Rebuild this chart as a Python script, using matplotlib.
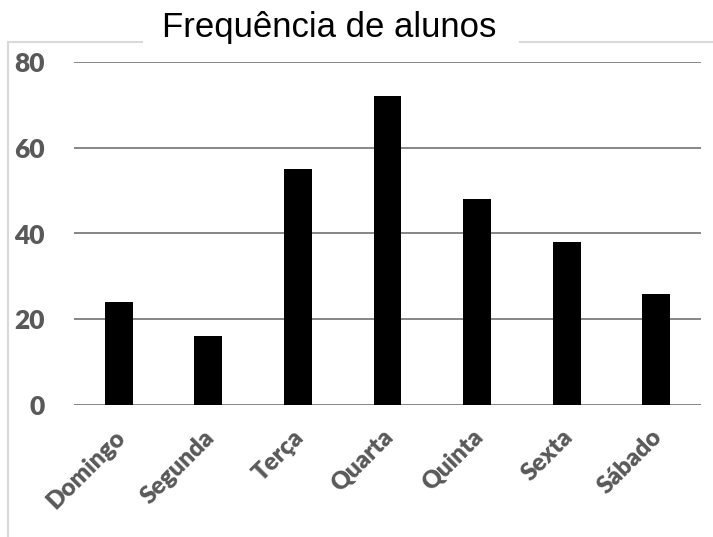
import matplotlib
matplotlib.use("Agg")
import matplotlib.pyplot as plt
import matplotlib.transforms as mtransforms
from matplotlib.lines import Line2D

# dias da semana e frequência
dias = ["Domingo", "Segunda", "Terça", "Quarta", "Quinta", "Sexta", "Sábado"]
alunos = [24, 16, 55, 72, 48, 38, 26]
y_ticks = [0, 20, 40, 60, 80]

TXT = "#595959"
GRID = "#868686"
BORDER = "#d9d9d9"

W, H = 713, 537
fig = plt.figure(figsize=(W / 100, H / 100), dpi=100)
fig.patch.set_facecolor("white")

ax = fig.add_axes([74 / W, 1 - 405 / H, 627 / W, 343 / H])
ax.bar(range(len(dias)), alunos, width=0.31, color="black", zorder=3)

ax.set_xlim(-0.5, len(dias) - 0.5)
ax.set_ylim(0, 80)
ax.set_yticks(y_ticks)
ax.set_xticks(range(len(dias)))
ax.set_xticklabels(dias, rotation=45, ha="right", va="top",
                   rotation_mode="anchor")

for s in ax.spines.values():
    s.set_visible(False)
ax.yaxis.grid(True, color=GRID, linewidth=1.4, zorder=0)
ax.axhline(0, color=BORDER, linewidth=2, zorder=1)
ax.tick_params(axis="both", length=0, colors=TXT)
ax.tick_params(axis="y", pad=21)
ax.tick_params(axis="x", pad=15)

shift = mtransforms.ScaledTranslation(-5 / 100, 0, fig.dpi_scale_trans)
for lb in ax.get_yticklabels():
    lb.set_fontfamily("Lato")
    lb.set_fontweight("heavy")
    lb.set_fontsize(19)
for lb in ax.get_xticklabels():
    lb.set_fontfamily("Lato")
    lb.set_fontweight("heavy")
    lb.set_fontsize(17.5)
    lb.set_transform(lb.get_transform() + shift)

# moldura do gráfico, interrompida pelo título
fig.add_artist(Line2D([8 / W, 8 / W], [0, 1 - 42 / H], color=BORDER, lw=1.5))
fig.add_artist(Line2D([8 / W, 142 / W], [1 - 42 / H] * 2, color=BORDER, lw=1.5))
fig.add_artist(Line2D([520 / W, 1], [1 - 42 / H] * 2, color=BORDER, lw=1.5))

fig.text(329 / W, 1 - 28 / H, "Frequência de alunos", ha="center", va="center",
         fontsize=25, fontfamily="Liberation Sans", color="black")

fig.savefig("out.png", dpi=100, facecolor="white")
